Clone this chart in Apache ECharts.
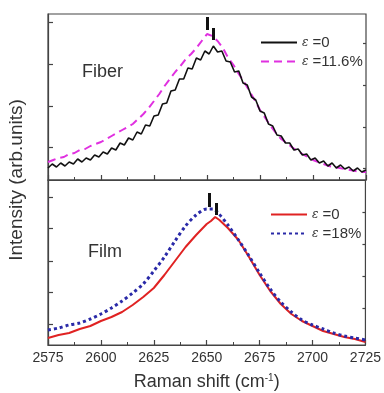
<!DOCTYPE html>
<html>
<head>
<meta charset="utf-8">
<script src="https://cdn.jsdelivr.net/npm/echarts@6/dist/echarts.min.js"></script>
<style>html,body{margin:0;padding:0;background:#fff}#c{width:384px;height:393px}</style>
</head>
<body>
<div id="c"></div>
<script>
// ---------- data ----------
const xTicks = [2575, 2600, 2625, 2650, 2675, 2700, 2725];

// Fiber, strain 0 (black, noisy)
const fiberWave0 = [2575,2577,2579,2581,2583,2585,2587,2589,2591,2593,2595,2597,2599,2601,2603,2605,2607,2609,2611,2613,2615,2617,2619,2621,2623,2625,2627,2629,2631,2633,2635,2637,2639,2641,2643,2645,2647,2649,2651,2653,2655,2657,2659,2661,2663,2665,2667,2669,2671,2673,2675,2677,2679,2681,2683,2685,2687,2689,2691,2693,2695,2697,2699,2701,2703,2705,2707,2709,2711,2713,2715,2717,2719,2721,2723,2725];
const fiberInt0 = [12,16,13,17,14,18,16,21,18,22,20,25,23,28,26,32,30,37,35,42,40,48,46,55,54,64,65,76,77,89,90,101,101,112,111,122,120,129,126,134,128,129,119,118,108,109,97,95,83,80,69,67,56,54,45,44,37,37,30,31,25,26,20,22,17,19,14,17,12,15,11,13,9,12,8,10];

// Fiber, strain 11.6% (magenta dashed)
const fiberWave116 = [2575,2577.5,2580,2582.5,2585,2587.5,2590,2592.5,2595,2597.5,2600,2602.5,2605,2607.5,2610,2612.5,2615,2617.5,2620,2622.5,2625,2627.5,2630,2632.5,2635,2637.5,2640,2642.5,2645,2647.5,2650,2652.5,2655,2657.5,2660,2662.5,2665,2667.5,2670,2672.5,2675,2677.5,2680,2682.5,2685,2687.5,2690,2692.5,2695,2697.5,2700,2702.5,2705,2707.5,2710,2712.5,2715,2717.5,2720,2722.5,2725];
const fiberInt116 = [18,20,22,23,26,27,30,31,34,36,38,41,44,47,50,53,56,61,66,72,79,86,94,101,108,114,121,126,132,139,146,144,139,132,122,115,106,98,89,80,70,62,54,47,41,37,33,29,26,23,20,18,16,14,13,12,11,10,9,8,8];

// Film, strain 0 (red) and 18% (blue dotted)
const filmWave = [2575,2580,2585,2590,2595,2600,2605,2610,2615,2620,2625,2630,2635,2640,2645,2650,2652,2654,2656,2660,2665,2670,2675,2680,2685,2690,2695,2700,2705,2710,2715,2720,2725];
const filmInt0 = [7,10,12,16,19,24,28,33,40,48,57,70,84,98,110,121,124,128,125,117,105,88,70,54,41,31,24,19,14,11,8,6,3];
const filmWave18 = [2575,2580,2585,2590,2595,2600,2605,2610,2615,2620,2625,2630,2635,2640,2645,2650,2653,2655,2660,2665,2670,2675,2680,2685,2690,2695,2700,2705,2710,2715,2720,2725];
const filmInt18 = [15,17,20,22,26,31,37,44,52,61,74,88,104,119,130,136,136,133,120,105,89,72,56,43,33,25,20,16,12,9,7,5];

// peak markers (position, low end, high end)
const fiberPeakX = [2650, 2653];
const fiberPeakLow = [150, 140];
const fiberPeakHigh = [163, 152];
const filmPeakX = [2651, 2654.6];
const filmPeakLow = [138, 130];
const filmPeakHigh = [152, 142];

// y tick positions (arbitrary intensity units)
const fiberMajor = [33, 74, 116, 158];
const fiberMinor = [12, 53, 95, 137];
const filmMajor = [21, 53, 84, 117, 148];
const filmMinor = [5, 37, 69, 101, 133];

// ---------- chart ----------
const pairs = (xs, ys) => xs.map((x, i) => [x, ys[i]]);
const peakLines = (xs, lo, hi) => xs.map((x, i) => [{coord: [x, lo[i]]}, {coord: [x, hi[i]]}]);

const FONT = 'Liberation Sans, Arial, sans-serif';
const frame = '#444';
const legendNames = {
  'f0': '{e|ε} =0', 'f116': '{e|ε} =11.6%',
  'm0': '{e|ε} =0', 'm18': '{e|ε} =18%'
};
const legendRich = {e: {fontFamily: 'DejaVu Serif, serif', fontStyle: 'italic', fontSize: 12, color: '#333'}};

const chart = echarts.init(document.getElementById('c'), null, {renderer: 'canvas'});

function xAxis(gi, labels) {
  return {
    type: 'value', gridIndex: gi, min: 2575, max: 2725, interval: 25,
    axisLine: {show: true, lineStyle: {color: frame, width: 1.2}},
    axisTick: {show: true, inside: true, length: 5, lineStyle: {color: frame, width: 1.2}},
    minorTick: {show: true, splitNumber: 2, length: 3, lineStyle: {color: frame, width: 1}},
    splitLine: {show: false},
    axisLabel: {show: labels, color: '#333', fontSize: 14, fontFamily: FONT, margin: 6, formatter: v => String(v)},
    name: labels ? 'Raman shift (cm{s|-1})' : '',
    nameLocation: 'middle', nameGap: 28,
    nameTextStyle: {color: '#333', fontSize: 18, fontFamily: FONT,
      rich: {s: {fontSize: 10, verticalAlign: 'top', color: '#333', fontFamily: FONT, padding: [0,0,8,0]}}}
  };
}
function yAxis(gi, max, ticks, len, showLine) {
  return {
    type: 'value', gridIndex: gi, min: 0, max: max,
    axisLine: {show: showLine, lineStyle: {color: frame, width: 1.2}},
    axisTick: {show: true, inside: true, length: len, customValues: ticks, lineStyle: {color: frame, width: 1.2}},
    axisLabel: {show: false},
    splitLine: {show: false}
  };
}
const legendBase = {orient: 'vertical', itemWidth: 36, itemHeight: 14, itemGap: 4,
  itemStyle: {opacity: 0, borderWidth: 0},
  formatter: n => legendNames[n], textStyle: {fontSize: 15, fontFamily: FONT, color: '#333', rich: legendRich}};

chart.setOption({
  animation: false,
  backgroundColor: '#fff',
  grid: [
    {left: 48, right: 18, top: 14, height: 166, show: true, borderColor: frame, borderWidth: 1.2},
    {left: 48, right: 18, top: 180, height: 165, show: true, borderColor: frame, borderWidth: 1.2}
  ],
  xAxis: [xAxis(0, false), xAxis(1, true)],
  yAxis: [
    yAxis(0, 166, fiberMajor, 5, true),
    yAxis(0, 166, fiberMinor, 3, false),
    yAxis(1, 165, filmMajor, 5, true),
    yAxis(1, 165, filmMinor, 3, false)
  ],
  graphic: [
    {type: 'text', left: 82, top: 63, style: {text: 'Fiber', fontSize: 18, fontFamily: FONT, fill: '#333'}},
    {type: 'text', left: 88, top: 243, style: {text: 'Film', fontSize: 18, fontFamily: FONT, fill: '#333'}},
    {type: 'text', x: 17, y: 180, rotation: Math.PI / 2, style: {text: 'Intensity (arb.units)', fontSize: 19, fontFamily: FONT, fill: '#333', align: 'center', verticalAlign: 'middle'}}
  ],
  legend: [
    Object.assign({data: ['f0', 'f116'], left: 255, top: 30}, legendBase),
    Object.assign({data: ['m0', 'm18'], left: 265, top: 202}, legendBase)
  ],
  series: [
    {name: 'f116', type: 'line', xAxisIndex: 0, yAxisIndex: 0, data: pairs(fiberWave116, fiberInt116), showSymbol: false, symbol: 'none',
      lineStyle: {color: '#e030e0', width: 2, type: [8, 5]}, itemStyle: {color: '#e030e0'}, z: 2},
    {name: 'f0', type: 'line', xAxisIndex: 0, yAxisIndex: 0, data: pairs(fiberWave0, fiberInt0), showSymbol: false, symbol: 'none',
      lineStyle: {color: '#111', width: 1.6}, itemStyle: {color: '#111'}, z: 3,
      markLine: {silent: true, symbol: 'none', label: {show: false}, lineStyle: {color: '#111', width: 3, type: 'solid'}, data: peakLines(fiberPeakX, fiberPeakLow, fiberPeakHigh)}},
    {name: 'm0', type: 'line', xAxisIndex: 1, yAxisIndex: 2, data: pairs(filmWave, filmInt0), showSymbol: false, symbol: 'none',
      lineStyle: {color: '#e02222', width: 2}, itemStyle: {color: '#e02222'}, z: 2,
      markLine: {silent: true, symbol: 'none', label: {show: false}, lineStyle: {color: '#111', width: 3, type: 'solid'}, data: peakLines(filmPeakX, filmPeakLow, filmPeakHigh)}},
    {name: 'm18', type: 'line', xAxisIndex: 1, yAxisIndex: 2, data: pairs(filmWave18, filmInt18), showSymbol: false, symbol: 'none', smooth: 0.3,
      lineStyle: {color: '#2a2aa8', width: 3, type: [3, 3]}, itemStyle: {color: '#2a2aa8'}, z: 3}
  ]
});
</script>
</body>
</html>
